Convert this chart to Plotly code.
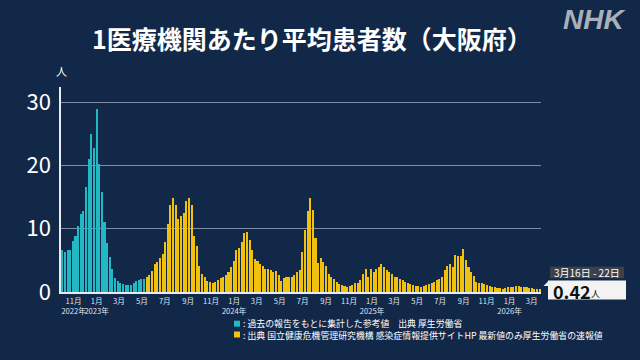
import pandas as pd
import plotly.graph_objects as go

# ---- data (weekly average patients per sentinel clinic, Osaka) ----
ref_start = "2022-10-02"   # week-end dates, reference values (cyan)
ref_values = [6.6, 6.4, 6.7, 6.6, 8.1, 8.9, 10.4, 12.3, 12.8, 16.6, 21.1, 24.9,
              22.7, 29.0, 20.3, 15.8, 11.1, 7.7, 5.5, 3.7, 2.2, 1.7, 1.4, 1.2,
              1.1, 1.1, 1.1, 1.5, 1.7, 1.9, 2.0, 2.0]
new_start = "2023-05-14"   # week-end dates, sentinel surveillance (yellow)
new_values = [2.3, 2.7, 3.3, 4.4, 4.8, 5.3, 6.0, 7.9, 10.7, 13.7, 14.9, 13.7,
              11.5, 12.0, 12.5, 14.4, 14.8, 13.7, 8.8, 7.2, 4.1, 2.8, 2.3, 1.8,
              1.6, 1.5, 1.6, 1.9, 2.2, 2.4, 2.7, 3.2, 4.0, 4.9, 6.6, 7.0,
              7.9, 9.3, 9.5, 8.2, 6.6, 5.2, 4.9, 4.5, 4.1, 3.7, 3.6, 3.5,
              3.2, 3.3, 2.7, 1.8, 2.2, 2.4, 2.3, 2.3, 2.7, 3.2, 3.5,
              6.4, 9.8, 12.8, 14.8, 12.9, 8.6, 4.6, 5.3, 4.8, 4.1, 2.9, 2.4,
              2.0, 1.6, 1.3, 1.05, 0.95, 0.85, 0.95, 1.15, 1.5, 1.5, 1.9, 2.8,
              3.7, 2.4, 3.7, 3.2, 3.7, 3.9, 4.4, 4.0, 3.5, 3.2, 2.9, 2.4,
              2.3, 2.1, 1.9, 1.6, 1.4, 1.2, 1.05, 0.95, 0.95, 0.85, 0.95, 1.15,
              1.3, 1.4, 1.6, 1.9, 2.1, 2.4, 3.4, 4.1, 4.5, 3.9, 5.8, 5.7,
              5.7, 6.8, 5.1, 3.9, 3.2, 2.5, 1.6, 1.5, 1.4, 1.2, 1.05, 0.95,
              0.85, 0.75, 0.65, 0.6, 0.55, 0.6, 0.75, 0.85, 0.85, 0.95, 0.95, 0.85,
              0.75, 0.75, 0.65, 0.6, 0.55, 0.5, 0.42]

tick_dates = ["2022-11-01", "2023-01-01", "2023-03-01", "2023-05-01", "2023-07-01",
              "2023-09-01", "2023-11-01", "2024-01-01", "2024-03-01", "2024-05-01",
              "2024-07-01", "2024-09-01", "2024-11-01", "2025-01-01", "2025-03-01",
              "2025-05-01", "2025-07-01", "2025-09-01", "2025-11-01", "2026-01-01",
              "2026-03-01"]
tick_labels = ["11月<br>2022年", "1月<br>2023年", "3月", "5月", "7月", "9月", "11月",
               "1月<br>2024年", "3月", "5月", "7月", "9月", "11月", "1月<br>2025年",
               "3月", "5月", "7月", "9月", "11月", "1月<br>2026年", "3月"]
y_ticks = [0, 10, 20, 30]

title_text = "1医療機関あたり平均患者数（大阪府）"
legend_ref = ": 過去の報告をもとに集計した参考値　出典 厚生労働省"
legend_new = ": 出典 国立健康危機管理研究機構 感染症情報提供サイトHP 最新値のみ厚生労働省の速報値"
latest_period = "3月16日 - 22日"

# ---- styling ----
BG = "#122848"
CYAN = "#22b8c4"
YELLOW = "#f0c20f"
FONT = "Noto Sans CJK JP, Noto Sans, sans-serif"

ref_dates = pd.date_range(ref_start, periods=len(ref_values), freq="7D")
new_dates = pd.date_range(new_start, periods=len(new_values), freq="7D")
week_ms = 7 * 24 * 3600 * 1000

L, R, T, B = 61, 541, 87, 292
W, H = R - L, B - T


def px(x):
    return (x - L) / W


def py(y):
    return (B - y) / H


fig = go.Figure()
fig.add_trace(go.Bar(x=ref_dates, y=ref_values, marker_color=CYAN,
                     marker_line_width=0, width=week_ms * 0.78, showlegend=False))
fig.add_trace(go.Bar(x=new_dates, y=new_values, marker_color=YELLOW,
                     marker_line_width=0, width=week_ms * 0.78, showlegend=False))

x0 = ref_dates[0] - pd.Timedelta(days=3.5)
x1 = new_dates[-1] + pd.Timedelta(days=3.5)

fig.update_layout(
    width=640, height=360,
    margin=dict(l=L, r=640 - R, t=T, b=360 - B, autoexpand=False),
    paper_bgcolor=BG, plot_bgcolor=BG,
    font=dict(family=FONT, color="white"),
    bargap=0,
    xaxis=dict(type="date", range=[x0, x1], tickvals=tick_dates, ticktext=tick_labels,
               tickfont=dict(size=7.6, color="#dfe4ec"), tickangle=0, showgrid=False,
               showline=True, linecolor="#e8ecf2", linewidth=1.5,
               ticks="", ticklabelstandoff=1, zeroline=False),
    yaxis=dict(range=[0, 32.4], tickvals=y_ticks, tickfont=dict(size=22, color="white"),
               showgrid=True, gridcolor="#7f8ca3", gridwidth=1,
               showline=True, linecolor="#e8ecf2", linewidth=1.5,
               ticks="", ticklabelstandoff=4, zeroline=False),
)

ann = []
ann.append(dict(x=px(312), y=py(38), text="<b>" + title_text + "</b>",
                font=dict(size=25, color="white"), showarrow=False,
                xanchor="center", yanchor="middle"))
ann.append(dict(x=px(594), y=py(20), text="<b><i>NHK</i></b>",
                font=dict(size=28, color="#aab0b8", family="Liberation Sans, Arial"),
                showarrow=False, xanchor="center", yanchor="middle"))
ann.append(dict(x=px(61), y=py(71), text="人", font=dict(size=11, color="white"),
                showarrow=False, xanchor="center", yanchor="middle"))
ann.append(dict(x=px(241), y=py(329), text=legend_ref + "<br>" + legend_new,
                font=dict(size=8.9, color="white"), align="left",
                showarrow=False, xanchor="left", yanchor="middle"))
ann.append(dict(x=px(587), y=py(272.5), text=latest_period, font=dict(size=10, color="white"),
                showarrow=False, xanchor="center", yanchor="middle"))
ann.append(dict(x=px(551), y=py(290.5), text="<b>%.2f</b>" % new_values[-1],
                font=dict(size=18, color="#111111"), showarrow=False,
                xanchor="left", yanchor="middle"))
ann.append(dict(x=px(589), y=py(293.5), text="人", font=dict(size=9, color="#111111"),
                showarrow=False, xanchor="left", yanchor="middle"))
for a in ann:
    a.update(xref="paper", yref="paper")
fig.update_layout(annotations=ann)

shapes = [
    dict(type="rect", x0=px(234), x1=px(240), y0=py(320.7), y1=py(326.7),
         fillcolor=CYAN, line_width=0),
    dict(type="rect", x0=px(234), x1=px(240), y0=py(331.5), y1=py(337.5),
         fillcolor=YELLOW, line_width=0),
    dict(type="rect", x0=px(550), x1=px(624), y0=py(278.3), y1=py(266.7),
         fillcolor="#3d4149", line_width=0),
    dict(type="rect", x0=px(548), x1=px(626), y0=py(299.5), y1=py(280.5),
         fillcolor="#f3f3f3", line_width=0),
    dict(type="path",
         path="M %f %f L %f %f L %f %f Z" % (px(549), py(280.5), px(543.5), py(286), px(549), py(286)),
         fillcolor="#f3f3f3", line_width=0),
]
for s in shapes:
    s.update(xref="paper", yref="paper", layer="above")
fig.update_layout(shapes=shapes)

fig.write_html("out.html", config={"displayModeBar": False},
               post_script="document.body.style.margin='0';")
